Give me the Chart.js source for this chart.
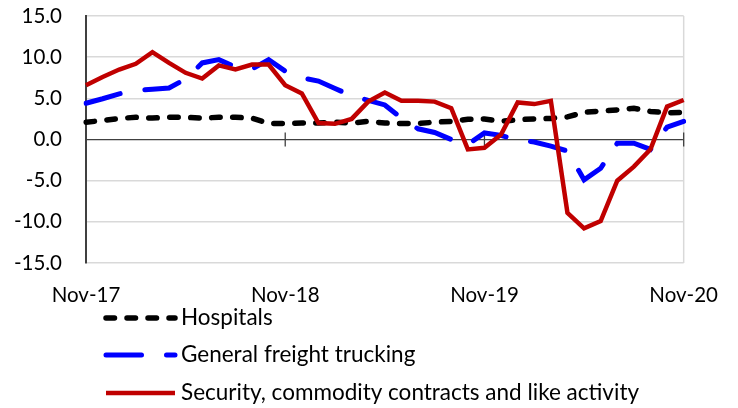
<!DOCTYPE html>
<html>
<head>
<meta charset="utf-8">
<title>Employment growth by industry</title>
<script src="https://cdn.jsdelivr.net/npm/chart.js@4.4.1/dist/chart.umd.min.js"></script>
<style>
  html, body { margin: 0; padding: 0; background: #fff; }
  #wrap { width: 738px; height: 408px; }
</style>
</head>
<body>
<div id="wrap"><canvas id="growthChart" width="738" height="408"></canvas></div>
<script>
// monthly categories, Nov-17 .. Nov-20
const months = ['Nov-17', 'Dec-17', 'Jan-18', 'Feb-18', 'Mar-18', 'Apr-18', 'May-18', 'Jun-18',
    'Jul-18', 'Aug-18', 'Sep-18', 'Oct-18', 'Nov-18', 'Dec-18', 'Jan-19', 'Feb-19', 'Mar-19',
    'Apr-19', 'May-19', 'Jun-19', 'Jul-19', 'Aug-19', 'Sep-19', 'Oct-19', 'Nov-19', 'Dec-19',
    'Jan-20', 'Feb-20', 'Mar-20', 'Apr-20', 'May-20', 'Jun-20', 'Jul-20', 'Aug-20', 'Sep-20',
    'Oct-20', 'Nov-20'];

// only these months get a label on the x axis
const shownMonths = ['Nov-17', 'Nov-18', 'Nov-19', 'Nov-20'];

const hospitals = [2.1, 2.3, 2.55, 2.7, 2.6, 2.7, 2.7, 2.6, 2.7, 2.7, 2.6, 1.95, 1.95, 2.0, 2.0,
    2.1, 2.0, 2.2, 2.0, 1.95, 1.95, 2.1, 2.2, 2.45, 2.5, 2.2, 2.4, 2.5, 2.55, 2.75, 3.3, 3.45,
    3.6, 3.8, 3.4, 3.25, 3.3];

const trucking = [4.4, 4.95, 5.55, 5.95, 6.1, 6.25, 7.35, 9.3, 9.7, 8.8, 8.55, 9.7, 8.3, 7.5,
    7.1, 6.2, 5.3, 4.75, 4.2, 2.6, 1.3, 0.85, 0.0, -0.6, 0.8, 0.5, -0.1, -0.3, -0.8, -1.4,
    -4.9, -3.5, -0.45, -0.45, -1.2, 1.5, 2.2];

const securities = [6.6, 7.6, 8.5, 9.2, 10.6, 9.3, 8.1, 7.4, 9.0, 8.5, 9.1, 9.1, 6.6, 5.6, 2.0,
    1.9, 2.5, 4.6, 5.7, 4.7, 4.7, 4.6, 3.8, -1.2, -1.0, 0.6, 4.5, 4.3, 4.7, -8.9, -10.8, -9.9,
    -5.0, -3.3, -1.2, 4.0, 4.8];

const yTicks = [-15, -10, -5, 0, 5, 10, 15];

const FONT = 'Lato, "Open Sans", sans-serif';

// zero line tick marks at each labelled month + light frame on the right
const frameAndTicks = {
    id: 'frameAndTicks',
    beforeDatasetsDraw(chart) {
        const { ctx, chartArea, scales } = chart;
        const y0 = scales.y.getPixelForValue(0);
        ctx.save();
        ctx.strokeStyle = '#d9d9d9';
        ctx.lineWidth = 1.5;
        ctx.beginPath();
        ctx.moveTo(chartArea.right, chartArea.top);
        ctx.lineTo(chartArea.right, chartArea.bottom);
        ctx.stroke();

        ctx.strokeStyle = '#404040';
        ctx.lineWidth = 1.3;
        months.forEach((m, i) => {
            if (i === 0 || !shownMonths.includes(m)) return;
            const x = scales.x.getPixelForValue(i);
            ctx.beginPath();
            ctx.moveTo(x, y0 - 7);
            ctx.lineTo(x, y0 + 7);
            ctx.stroke();
        });
        ctx.restore();
    }
};

// legend stacked in one column under the axis
const stackedLegend = {
    id: 'stackedLegend',
    afterDraw(chart) {
        const { ctx } = chart;
        const rows = [318, 355, 393];
        ctx.save();
        chart.data.datasets.forEach((ds, i) => {
            const y = rows[i];
            ctx.strokeStyle = ds.borderColor;
            ctx.lineWidth = ds.borderWidth;
            ctx.lineCap = ds.borderCapStyle || 'butt';
            ctx.setLineDash(ds.borderDash || []);
            ctx.beginPath();
            ctx.moveTo(106, y);
            ctx.lineTo(175, y);
            ctx.stroke();
            ctx.setLineDash([]);
            ctx.fillStyle = '#000';
            ctx.font = '22.5px ' + FONT;
            ctx.textBaseline = 'middle';
            ctx.textAlign = 'left';
            ctx.fillText(ds.label, 181, y);
        });
        ctx.restore();
    }
};

const ctx = document.getElementById('growthChart').getContext('2d');
const growthChart = new Chart(ctx, {
    type: 'line',
    data: {
        labels: months,
        datasets: [{
            label: 'Hospitals',
            data: hospitals,
            borderColor: '#000000',
            borderWidth: 5.5,
            borderDash: [8.5, 12.5],
            borderCapStyle: 'round',
            order: 2
        }, {
            label: 'General freight trucking',
            data: trucking,
            borderColor: '#0000ff',
            borderWidth: 5,
            borderDash: [35.5, 25],
            borderCapStyle: 'round',
            order: 1
        }, {
            label: 'Security, commodity contracts and like activity',
            data: securities,
            borderColor: '#c00000',
            borderWidth: 4.5,
            borderJoinStyle: 'miter',
            order: 0
        }]
    },
    options: {
        responsive: false,
        animation: false,
        layout: { padding: { top: 16, right: 49, left: 0, bottom: 0 } },
        elements: {
            point: { radius: 0, hoverRadius: 0 },
            line: { tension: 0, fill: false }
        },
        plugins: {
            legend: { display: false },
            tooltip: { enabled: false }
        },
        scales: {
            x: {
                offset: false,
                grid: { display: false, drawTicks: false },
                border: { display: false },
                ticks: {
                    autoSkip: false,
                    maxRotation: 0,
                    padding: 20,
                    color: '#000',
                    font: { family: FONT, size: 20.5 },
                    callback: function (value, index) {
                        const m = months[index];
                        return shownMonths.includes(m) ? m : '';
                    }
                },
                afterFit: function (scale) { scale.height = 145; }
            },
            y: {
                min: yTicks[0],
                max: yTicks[yTicks.length - 1],
                afterBuildTicks: function (scale) {
                    scale.ticks = yTicks.map(v => ({ value: v }));
                },
                grid: {
                    drawTicks: true,
                    tickLength: 24,
                    tickColor: 'rgba(0,0,0,0)',
                    color: c => c.tick && c.tick.value === 0 ? '#404040' : '#d9d9d9',
                    lineWidth: c => c.tick && c.tick.value === 0 ? 1.3 : 1.5
                },
                border: { color: '#404040', width: 2 },
                ticks: {
                    padding: 0,
                    color: '#000',
                    font: { family: FONT, size: 20.5 },
                    callback: v => v.toFixed(1)
                },
                afterFit: function (scale) { scale.width = 86; }
            }
        }
    },
    plugins: [frameAndTicks, stackedLegend]
});
</script>
</body>
</html>
